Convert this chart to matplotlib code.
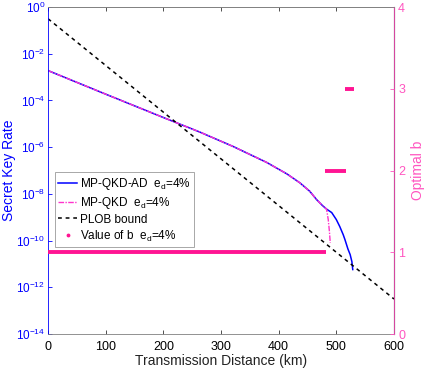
import numpy as np
import matplotlib
matplotlib.use("Agg")
import matplotlib.pyplot as plt

plt.rcParams['font.family'] = ['Liberation Sans', 'DejaVu Sans']
plt.rcParams['mathtext.fontset'] = 'custom'
plt.rcParams['mathtext.rm'] = 'Liberation Sans'
plt.rcParams['mathtext.it'] = 'Liberation Sans'

# MP-QKD (log10 of key rate) vs distance (km)
mp_dist = [0, 100, 200, 263, 321, 379, 414, 437, 454, 466, 476, 483, 486, 488, 489.5]
mp_log = [-2.72, -3.73, -4.73, -5.35, -5.97, -6.65, -7.14, -7.53, -7.89, -8.25,
          -8.5, -8.65, -9.1, -9.6, -10.1]

# MP-QKD-AD
ad_dist = [0, 100, 200, 263, 321, 379, 414, 437, 454, 466, 476, 483, 492, 500,
           506, 512, 515, 520, 524, 527, 528.5]
ad_log = [-2.72, -3.73, -4.73, -5.35, -5.97, -6.65, -7.14, -7.53, -7.89, -8.25,
          -8.5, -8.65, -8.8, -9.1, -9.4, -9.75, -9.96, -10.35, -10.6, -10.9, -11.24]

# PLOB bound
plob_dist = [0, 600]
plob_log = [-0.5, -12.5]

# optimal b ranges
b_start = [0, 480, 515]
b_end = [482, 517, 531]
b_val = [1, 2, 3]

blue = '#0000FF'
pink_ax = '#FF55C0'
pink_pt = '#FF1493'
magenta = '#FF33CC'

fig = plt.figure(figsize=(4.25, 3.71), dpi=100)
ax = fig.add_axes([0.113, 0.0997, 0.814, 0.8813])
ax2 = ax.twinx()

l1, = ax.plot(ad_dist, 10.0 ** np.array(ad_log), color=blue, lw=1.1,
              label='MP-QKD-AD  e$_d$=4%')
l2, = ax.plot(mp_dist, 10.0 ** np.array(mp_log), color=magenta, lw=1.0,
              ls=(0, (4, 1, 1, 1)), label='MP-QKD  e$_d$=4%')
l3, = ax.plot(plob_dist, 10.0 ** np.array(plob_log), color='black', lw=1.1,
              ls=(0, (2.5, 2.5)), label='PLOB bound')

for s, e, v in zip(b_start, b_end, b_val):
    ax2.plot([s, e], [v, v], color=pink_pt, lw=2.8, solid_capstyle='butt')
l4, = ax2.plot([], [], ls='none', marker='.', ms=3.5, color=pink_pt,
               label='Value of b  e$_d$=4%')

ax.set_yscale('log')
ax.set_xlim(0, 600)
ax.set_ylim(1e-14, 1)
ax.set_yticks([10.0 ** k for k in range(-14, 1, 2)])
ax.minorticks_off()
ax.set_xticks(range(0, 601, 100))
ax2.set_ylim(0, 4)
ax2.set_yticks([0, 1, 2, 3, 4])

ax.tick_params(axis='y', colors=blue, direction='in', length=3, labelsize=8.5,
               width=0.6, pad=2)
ax.tick_params(axis='x', colors='#333333', labelcolor='black', direction='in',
               length=3, labelsize=9, width=0.6, top=True, pad=4.8)
ax2.tick_params(axis='y', colors=pink_ax, direction='in', length=3, labelsize=9,
                width=0.6, pad=3)

for sp in ['top', 'bottom']:
    ax.spines[sp].set_color('#808080')
    ax.spines[sp].set_linewidth(0.6)
ax2.spines['top'].set_color('#808080')
ax2.spines['top'].set_linewidth(0.6)
ax.spines['left'].set_color(blue)
ax.spines['left'].set_linewidth(0.6)
ax2.spines['right'].set_color(pink_ax)
ax2.spines['right'].set_linewidth(0.6)
ax2.spines['left'].set_visible(False)
ax2.spines['bottom'].set_visible(False)

ax.set_ylabel('Secret Key Rate', color=blue, fontsize=10)
ax.yaxis.set_label_coords(-0.092, 0.5)
ax2.set_ylabel('Optimal b', color=pink_ax, fontsize=10, labelpad=4)
ax.set_xlabel('Transmission Distance (km)', color='#222222', fontsize=10, labelpad=1)

leg = ax2.legend(handles=[l1, l2, l3, l4], loc='upper left',
                 bbox_to_anchor=(0.02, 0.495), fontsize=8.5, frameon=True,
                 fancybox=False, edgecolor='#808080', handlelength=1.6,
                 handletextpad=0.2, borderpad=0.3, labelspacing=0.25,
                 borderaxespad=0)
leg.get_frame().set_linewidth(0.6)

fig.savefig('out.png', dpi=100)
